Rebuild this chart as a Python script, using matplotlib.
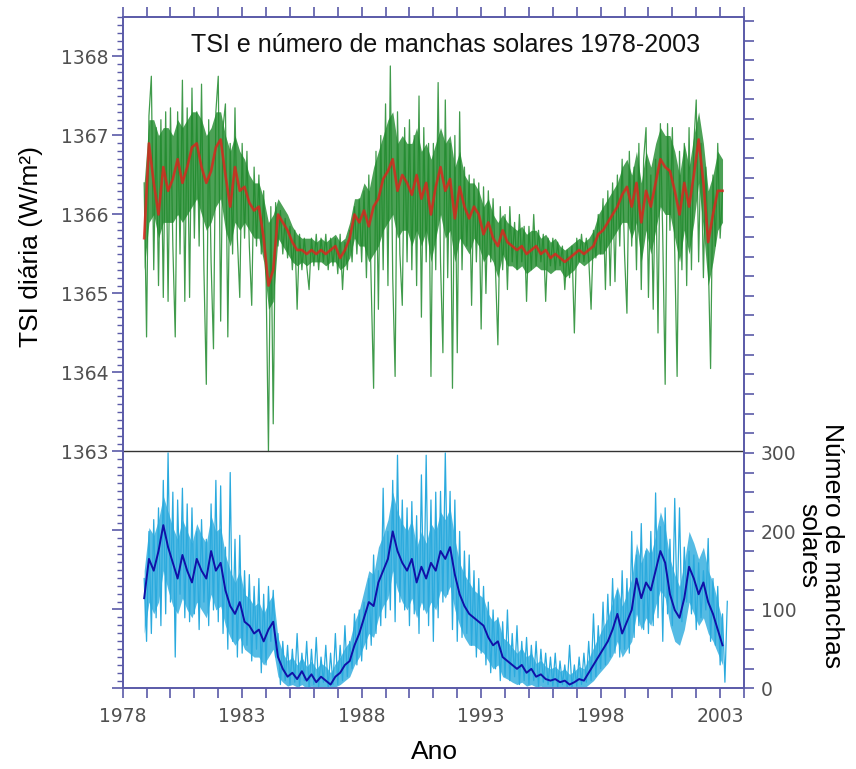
import numpy as np
import matplotlib
matplotlib.use("Agg")
import matplotlib.pyplot as plt
from matplotlib.ticker import MultipleLocator, FixedLocator, FuncFormatter

plt.rcParams['font.family'] = ['Liberation Sans', 'DejaVu Sans']

# daily TSI (W/m2), every 0.1 year starting 1978.9
tsi_start = 1978.9
tsi_daily = [
    1366.4, 1364.45, 1367.25, 1367.75, 1365.3, 1367.1, 1365.1, 1367.2, 1364.95, 1367.3,
    1364.9, 1367.35, 1365.6, 1364.45, 1367.3, 1365.5, 1367.7, 1364.9, 1367.35, 1364.95,
    1367.6, 1365.7, 1367.3, 1365.6, 1367.65, 1365.3, 1363.85, 1367.2, 1365.4, 1364.3,
    1367.3, 1367.75, 1364.65, 1367.1, 1367.4, 1364.45, 1366.9, 1365.5, 1367.35, 1365.7,
    1364.95, 1366.9, 1365.7, 1366.8, 1365.6, 1364.85, 1366.6, 1365.6, 1366.5, 1365.5,
    1366.3, 1365.2, 1363.0, 1366.1, 1363.35, 1366.15, 1365.6, 1366.05, 1365.5, 1365.95,
    1365.45, 1365.85, 1365.3, 1365.8, 1364.8, 1365.75, 1365.3, 1365.7, 1365.35, 1365.05,
    1365.7, 1365.35, 1365.75, 1365.3, 1365.7, 1365.4, 1365.75, 1365.3, 1365.7, 1365.35,
    1365.7, 1365.25, 1365.75, 1365.05, 1365.65, 1365.3, 1365.8, 1365.4, 1366.1, 1365.5,
    1366.2, 1365.4, 1366.3, 1365.2, 1366.5, 1365.1, 1363.8, 1366.8, 1364.8, 1367.0,
    1365.3, 1367.4, 1365.1, 1367.88, 1365.2, 1363.95, 1367.3, 1365.5, 1364.85, 1367.1,
    1365.4, 1367.2, 1365.3, 1367.0, 1365.1, 1367.5, 1364.7, 1367.1, 1365.4, 1366.9,
    1363.95, 1366.9, 1365.3, 1367.67, 1365.4, 1364.25, 1367.45, 1365.2, 1366.9, 1363.8,
    1367.0, 1364.25, 1367.3, 1365.3, 1366.6, 1365.6, 1366.5, 1364.85, 1366.45, 1365.4,
    1366.4, 1364.55, 1366.35, 1365.0, 1366.3, 1365.4, 1366.2, 1365.3, 1364.35, 1366.1,
    1365.3, 1366.0, 1365.05, 1366.1, 1365.4, 1365.9, 1365.3, 1366.0, 1365.4, 1365.85,
    1364.9, 1365.85, 1365.3, 1366.0, 1365.35, 1365.8, 1365.4, 1365.75, 1364.9, 1365.7,
    1365.35, 1365.7, 1365.3, 1365.65, 1365.35, 1365.6, 1365.05, 1365.55, 1365.2, 1365.6,
    1364.5, 1365.7, 1365.4, 1365.75, 1365.4, 1365.7, 1365.45, 1364.8, 1365.8, 1365.45,
    1366.0, 1365.5, 1366.2, 1365.05, 1366.3, 1365.1, 1366.4, 1365.15, 1366.5, 1365.6,
    1366.7, 1365.5, 1364.75, 1366.8, 1365.6, 1366.6, 1365.3, 1366.9, 1365.05, 1366.7,
    1367.1, 1364.95, 1366.5, 1364.8, 1366.7, 1364.5, 1367.15, 1365.7, 1363.85, 1367.15,
    1365.8, 1367.1, 1365.5, 1363.95, 1366.8, 1365.3, 1366.9, 1365.1, 1367.1, 1365.3,
    1366.9, 1367.45, 1365.4, 1366.9, 1365.2, 1366.6, 1365.5, 1364.05, 1366.5, 1365.6,
    1366.9, 1365.7, 1366.3,
]

# dense core of the daily TSI cloud, every 0.2 year starting 1978.9
tsi_core_hi = [
    1366.4, 1367.2, 1367.2, 1367.0, 1367.1, 1367.1, 1367.0, 1367.2, 1367.1, 1367.2,
    1367.3, 1367.3, 1367.2, 1367.0, 1367.1, 1367.3, 1367.3, 1367.0, 1366.8, 1367.0,
    1366.8, 1366.7, 1366.5, 1366.4, 1366.4, 1366.2, 1365.9, 1366.0, 1366.2, 1366.1,
    1366.0, 1365.85, 1365.75, 1365.7, 1365.7, 1365.7, 1365.65, 1365.7, 1365.65, 1365.7,
    1365.75, 1365.65, 1365.7, 1365.9, 1366.2, 1366.2, 1366.4, 1366.3, 1366.6, 1366.8,
    1367.0, 1367.2, 1367.3, 1366.9, 1367.0, 1366.9, 1366.9, 1367.1, 1366.8, 1366.9,
    1366.7, 1366.9, 1367.1, 1366.9, 1367.0, 1366.6, 1366.8, 1366.5, 1366.4, 1366.4,
    1366.3, 1366.1, 1366.2, 1366.0, 1365.9, 1366.0, 1365.9, 1365.85, 1365.8, 1365.85,
    1365.75, 1365.8, 1365.8, 1365.7, 1365.75, 1365.65, 1365.7, 1365.6, 1365.55, 1365.6,
    1365.65, 1365.7, 1365.65, 1365.7, 1365.8, 1366.0, 1366.1, 1366.2, 1366.3, 1366.4,
    1366.6, 1366.7, 1366.5, 1366.8, 1366.4, 1366.8, 1366.6, 1366.9, 1367.1, 1367.0,
    1367.0, 1366.8, 1366.5, 1366.9, 1366.6, 1367.0, 1367.3, 1366.9, 1366.3, 1366.5,
    1366.8, 1366.7,
]
tsi_core_lo = [
    1365.3, 1365.9, 1366.0, 1365.7, 1365.9, 1365.9, 1365.9, 1366.0, 1365.9, 1366.0,
    1366.1, 1366.2, 1366.0, 1365.8, 1365.9, 1366.1, 1366.2, 1365.8, 1365.6, 1365.9,
    1365.8, 1365.9, 1365.8, 1365.7, 1365.7, 1365.4, 1364.8, 1364.9, 1365.7, 1365.6,
    1365.5, 1365.4, 1365.35, 1365.4, 1365.35, 1365.4, 1365.4, 1365.4, 1365.35, 1365.4,
    1365.4, 1365.3, 1365.35, 1365.45, 1365.7, 1365.6, 1365.6, 1365.4, 1365.5, 1365.6,
    1365.8, 1365.9, 1366.0, 1365.7, 1365.8, 1365.8, 1365.6, 1365.8, 1365.6, 1365.8,
    1365.4, 1365.7, 1366.0, 1365.7, 1365.8, 1365.4, 1365.7, 1365.6, 1365.5, 1365.7,
    1365.6, 1365.4, 1365.5, 1365.4, 1365.2, 1365.5, 1365.35, 1365.35, 1365.3, 1365.35,
    1365.25, 1365.3, 1365.35, 1365.3, 1365.3, 1365.25, 1365.3, 1365.3, 1365.2, 1365.25,
    1365.3, 1365.4, 1365.35, 1365.4, 1365.45, 1365.5, 1365.5, 1365.6, 1365.7, 1365.8,
    1365.9, 1365.9, 1365.7, 1365.9, 1365.4, 1365.8, 1365.5, 1365.8, 1366.1, 1366.0,
    1366.0, 1365.7, 1365.4, 1365.8, 1365.5, 1365.9, 1366.4, 1365.8, 1365.1, 1365.4,
    1365.8, 1365.9,
]

# smoothed TSI, every 0.2 year starting 1978.9
tsi_smooth = [
    1365.7, 1366.9, 1366.4, 1366.0, 1366.6, 1366.3, 1366.45, 1366.7, 1366.4, 1366.6,
    1366.85, 1366.9, 1366.6, 1366.4, 1366.55, 1366.85, 1366.95, 1366.5, 1366.1, 1366.6,
    1366.3, 1366.35, 1366.15, 1366.05, 1366.1, 1365.7, 1365.1, 1365.3, 1366.0, 1365.9,
    1365.8, 1365.65, 1365.55, 1365.55, 1365.5, 1365.55, 1365.5, 1365.55, 1365.5, 1365.55,
    1365.6, 1365.45, 1365.55, 1365.7, 1366.0, 1365.9, 1366.05, 1365.85, 1366.1, 1366.2,
    1366.45, 1366.55, 1366.7, 1366.3, 1366.5, 1366.4, 1366.25, 1366.5, 1366.2, 1366.4,
    1366.0, 1366.35, 1366.6, 1366.3, 1366.45, 1365.95, 1366.35, 1366.1, 1365.95, 1366.1,
    1366.0, 1365.75, 1365.9, 1365.7, 1365.6, 1365.8, 1365.65, 1365.6, 1365.55, 1365.6,
    1365.5, 1365.55, 1365.6, 1365.5, 1365.55, 1365.45, 1365.5, 1365.45, 1365.4, 1365.45,
    1365.5, 1365.55, 1365.5, 1365.55, 1365.6, 1365.75, 1365.8, 1365.9, 1366.0, 1366.1,
    1366.25, 1366.35, 1366.1, 1366.4, 1365.9, 1366.3, 1366.1, 1366.4, 1366.7, 1366.6,
    1366.55, 1366.3, 1366.0, 1366.4, 1366.1, 1366.5, 1366.95, 1366.4, 1365.65, 1366.0,
    1366.3, 1366.3,
]

# daily sunspot number, every 0.1 year starting 1978.9
ssn_daily = [
    140, 60, 200, 70, 215, 90, 230, 80, 265, 95,
    300, 110, 250, 40, 240, 120, 255, 90, 235, 85,
    230, 95, 200, 75, 215, 110, 190, 80, 235, 100,
    265, 85, 258, 70, 180, 50, 275, 60, 190, 40,
    195, 45, 150, 55, 145, 35, 130, 50, 140, 20,
    120, 30, 130, 60, 125, 40, 70, 5, 60, 10,
    55, 5, 50, 8, 70, 3, 45, 10, 60, 0,
    50, 5, 65, 2, 40, 8, 55, 0, 45, 5,
    70, 5, 55, 10, 80, 15, 60, 25, 95, 30,
    100, 35, 110, 50, 140, 55, 170, 70, 150, 80,
    255, 90, 200, 100, 265, 85, 297, 110, 240, 100,
    230, 80, 238, 95, 220, 70, 272, 100, 297, 80,
    240, 60, 250, 90, 251, 110, 300, 120, 251, 75,
    240, 60, 200, 65, 175, 70, 170, 55, 150, 40,
    140, 45, 130, 30, 110, 20, 100, 25, 90, 10,
    85, 15, 100, 10, 70, 15, 80, 5, 60, 10,
    65, 5, 55, 10, 60, 3, 50, 8, 45, 5,
    40, 3, 45, 0, 35, 5, 30, 2, 55, 0,
    30, 3, 40, 5, 45, 8, 60, 10, 95, 15,
    80, 25, 110, 30, 120, 40, 140, 45, 125, 40,
    150, 50, 140, 45, 200, 65, 170, 80, 210, 75,
    175, 70, 200, 80, 249, 90, 206, 60, 230, 95,
    190, 80, 242, 100, 230, 85, 180, 110, 175, 95,
    170, 75, 160, 90, 150, 100, 191, 60, 140, 55,
    130, 30, 95, 8, 111,
]

# dense core of the daily sunspot cloud, every 0.2 year starting 1978.9
ssn_core_hi = [
    150, 205, 195, 215, 245, 225, 205, 190, 215, 200,
    185, 210, 195, 185, 220, 200, 205, 170, 150, 135,
    150, 120, 115, 105, 110, 95, 110, 120, 65, 45,
    35, 40, 30, 40, 28, 35, 25, 32, 28, 20,
    32, 40, 52, 60, 85, 100, 125, 150, 145, 180,
    195, 215, 250, 225, 210, 200, 215, 180, 200, 185,
    210, 200, 225, 215, 230, 190, 160, 145, 135, 125,
    120, 115, 95, 85, 90, 65, 60, 52, 45, 52,
    40, 45, 32, 36, 28, 25, 28, 22, 25, 18,
    22, 28, 25, 38, 52, 65, 78, 90, 110, 130,
    105, 120, 140, 185, 160, 180, 170, 195, 225, 205,
    165, 145, 130, 160, 200, 185, 165, 180, 150, 135,
    110, 85,
]
ssn_core_lo = [
    70, 110, 95, 110, 150, 125, 105, 95, 115, 100,
    90, 110, 100, 90, 120, 100, 105, 80, 65, 55,
    65, 50, 45, 40, 40, 30, 40, 50, 15, 8,
    3, 5, 2, 5, 0, 3, 0, 2, 0, 0,
    2, 5, 10, 15, 30, 40, 55, 70, 65, 90,
    105, 115, 150, 125, 110, 100, 115, 90, 110, 95,
    110, 100, 125, 115, 130, 100, 80, 65, 55, 55,
    50, 45, 35, 25, 30, 15, 12, 8, 5, 8,
    3, 5, 2, 3, 0, 0, 0, 0, 0, 0,
    0, 2, 0, 5, 10, 18, 25, 32, 42, 60,
    40, 50, 60, 95, 75, 90, 80, 105, 125, 115,
    80, 60, 55, 75, 110, 95, 80, 90, 70, 60,
    45, 30,
]

# monthly-mean sunspot number, every 0.2 year starting 1978.9
ssn_smooth = [
    115, 165, 150, 175, 208, 180, 160, 140, 170, 150,
    135, 165, 150, 140, 175, 150, 160, 125, 105, 95,
    110, 85, 80, 70, 75, 60, 75, 85, 40, 25,
    15, 20, 12, 22, 10, 18, 8, 15, 10, 5,
    15, 20, 30, 35, 55, 70, 90, 110, 105, 135,
    150, 165, 200, 175, 160, 150, 165, 135, 155, 140,
    160, 150, 175, 165, 180, 145, 120, 105, 95, 90,
    85, 80, 65, 55, 60, 40, 35, 30, 25, 30,
    20, 25, 15, 18, 12, 10, 12, 8, 10, 5,
    8, 12, 10, 20, 30, 40, 50, 60, 75, 95,
    70, 85, 100, 140, 115, 135, 125, 150, 175, 160,
    120, 100, 90, 115, 155, 140, 120, 135, 110, 95,
    75, 55,
]

years_ticks = list(range(1978, 2004, 5))

tsi_x = tsi_start + 0.1 * np.arange(len(tsi_daily))
tsi_sx = tsi_start + 0.2 * np.arange(len(tsi_smooth))
ssn_x = tsi_start + 0.1 * np.arange(len(ssn_daily))
ssn_sx = tsi_start + 0.2 * np.arange(len(ssn_smooth))

axis_col = '#5a5aa8'
tick_lab = '#505050'
green = '#1f8a2c'
cyan = '#2aaade'

fig = plt.figure(figsize=(8.56, 7.69), dpi=100)
ax = fig.add_axes([0.1433, 0.1047, 0.7259, 0.8732])
ax2 = ax.twinx()

# top panel: TSI
ax.fill_between(tsi_sx, tsi_core_lo, tsi_core_hi, color=green, lw=0, alpha=0.8)
ax.plot(tsi_x, tsi_daily, color=green, lw=0.9, alpha=0.85)
ax.plot(tsi_sx, tsi_smooth, color='#e2201c', lw=1.9, alpha=0.8)
ax.axhline(1363, color='#333333', lw=1.0)

# bottom panel: sunspots
ax2.fill_between(ssn_sx, ssn_core_lo, ssn_core_hi, color=cyan, lw=0, alpha=0.8)
ax2.plot(ssn_x, ssn_daily, color=cyan, lw=0.9)
ax2.plot(ssn_sx, ssn_smooth, color='#1010a8', lw=1.4)

ax.set_xlim(1978, 2004)
ax.set_ylim(1360.0, 1368.5)
ax2.set_ylim(0, 855)

# left axis: labels only for the TSI part
ax.yaxis.set_major_locator(FixedLocator(np.arange(1360, 1369, 1)))
ax.yaxis.set_minor_locator(MultipleLocator(0.1))
ax.yaxis.set_major_formatter(FuncFormatter(lambda v, p: '%d' % v if v >= 1363 else ''))

# right axis: labels only for sunspot part
ax2.yaxis.set_major_locator(MultipleLocator(25))
ax2.yaxis.set_major_formatter(FuncFormatter(lambda v, p: '%d' % v if v <= 300 and v % 100 == 0 else ''))

ax.xaxis.set_major_locator(MultipleLocator(1))
ax.xaxis.set_major_formatter(FuncFormatter(lambda v, p: '%d' % v if int(v) in years_ticks else ''))

for a in (ax, ax2):
    for s in a.spines.values():
        s.set_color(axis_col)
        s.set_linewidth(1.2)

ax.tick_params(axis='x', which='major', direction='out', length=7, width=1.2,
               color=axis_col, top=True, labelsize=13.5, labelcolor=tick_lab, pad=6)
ax.tick_params(axis='y', which='major', direction='out', length=8, width=1.2,
               color=axis_col, labelsize=13.5, labelcolor=tick_lab, pad=2)
ax.tick_params(axis='y', which='minor', direction='out', length=4, width=1.0, color=axis_col)
ax2.tick_params(axis='y', which='major', direction='out', length=7, width=1.2,
                color=axis_col, labelsize=13.5, labelcolor=tick_lab, pad=5)
for lab in ax.get_xticklabels() + ax.get_yticklabels() + ax2.get_yticklabels():
    lab.set_family('DejaVu Sans')

ax.text(0.52, 0.958, 'TSI e número de manchas solares 1978-2003', transform=ax.transAxes,
        ha='center', va='center', fontsize=18, color='#111111')

fig.text(0.036, 0.68, 'TSI diária (W/m²)', rotation=90, ha='center', va='center', fontsize=19)
fig.text(0.958, 0.29, 'Número de manchas\nsolares', rotation=270, ha='center', va='center',
         fontsize=19, linespacing=1.0)
fig.text(0.508, 0.022, 'Ano', ha='center', va='center', fontsize=19)

fig.savefig('out.png', dpi=100)
